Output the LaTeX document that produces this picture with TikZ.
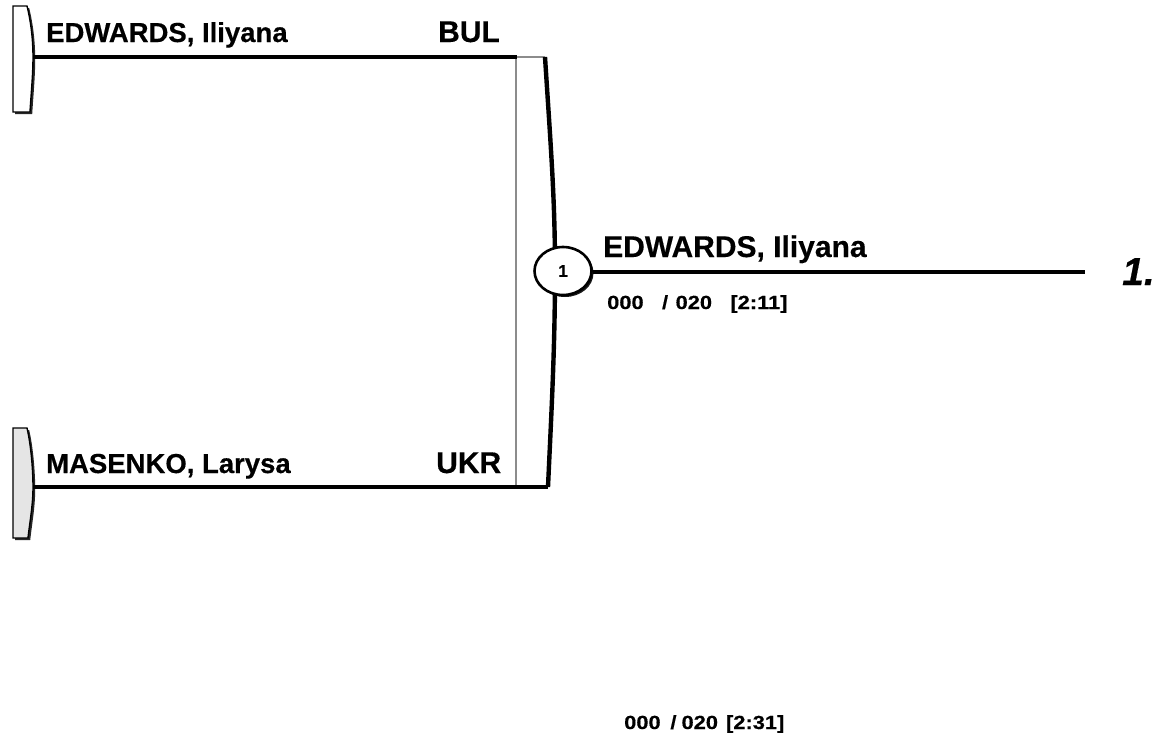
\documentclass[tikz,border=0pt]{standalone}
\usepackage{fontspec}
\setmainfont{Liberation Sans}[BoldFeatures={FakeBold=0.4},BoldItalicFeatures={FakeBold=0.4}]
\usepackage{graphicx}
\usetikzlibrary{shapes.geometric,shadows}
\begin{document}
\begin{tikzpicture}[x=1pt,y=-1pt,
  pname/.style={font=\bfseries\fontsize{27.5}{30}\selectfont, anchor=base west, inner sep=0pt},
  nation/.style={font=\bfseries\fontsize{30}{32}\selectfont, anchor=base west, inner sep=0pt},
  winner/.style={font=\bfseries\fontsize{30}{32}\selectfont, anchor=base west, inner sep=0pt},
  score/.style={font=\bfseries\fontsize{19}{20}\selectfont, anchor=base west, inner sep=0pt},
  place/.style={font=\bfseries\itshape\fontsize{39}{40}\selectfont, anchor=base west, inner sep=0pt},
  wire/.style={line width=3.2pt, black},
  edgegray/.style={line width=2.8pt, black!45},
  bracketedge/.style={line width=4.4pt, black},
  matchno/.style={ellipse, draw=black, line width=2.6pt, fill=white, minimum width=57pt, minimum height=48pt, inner sep=0pt,
    font=\bfseries\fontsize{17}{18}\selectfont,
    drop shadow={shadow xshift=2pt, shadow yshift=-2pt, opacity=0.9, fill=black}},
  tabshadow/.style={fill=black!85},
  tabbody/.style={draw=black, line width=1.4pt}
]
\useasboundingbox (0,0) rectangle (1166,737);

% top entry tab
\fill[tabshadow, shift={(2.2,2.2)}] (13,6) -- (27,6) .. controls (31,22) and (33,40) .. (33,57) .. controls (33,75) and (31,95) .. (30,112) -- (13,112) -- cycle;
\filldraw[tabbody, fill=white] (13,6) -- (27,6) .. controls (31,22) and (33,40) .. (33,57) .. controls (33,75) and (31,95) .. (30,112) -- (13,112) -- cycle;
\coordinate (t1) at (33,57);

% bottom entry tab
\fill[tabshadow, shift={(2.2,2.2)}] (13,428) -- (27,428) .. controls (31,445) and (33,470) .. (33,487) .. controls (33,505) and (30,520) .. (28,538) -- (13,538) -- cycle;
\filldraw[tabbody, fill=black!10] (13,428) -- (27,428) .. controls (31,445) and (33,470) .. (33,487) .. controls (33,505) and (30,520) .. (28,538) -- (13,538) -- cycle;
\coordinate (b1) at (33,487);

% bracket
\coordinate (tj) at (517,57);
\coordinate (tr) at (545,57);
\coordinate (bj) at (548,487);
\coordinate (bl) at (516,487);
\draw[edgegray] (516,57) -- (bl);
\draw[edgegray] (tj) -- (tr);
\draw[bracketedge] (tr) .. controls (551,150) and (555,200) .. (555,271) .. controls (555,350) and (551,420) .. (bj);
\draw[wire] (t1) -- (tj);
\draw[wire] (b1) -- (bj);

% match circle and output line
\node[matchno] (m1) at (563,271) {1};
\coordinate (oend) at (1085,272);
\draw[wire] (m1.east |- oend) -- (oend);

% texts
\node[pname] (n1) at (46,42) {EDWARDS, Iliyana};
\node[nation] (c1) at (438,42) {BUL};
\node[pname] (n2) at (46,473) {MASENKO, Larysa};
\node[nation] (c2) at (436,473) {UKR};
\node[winner] (w1) at (603,257) {EDWARDS, Iliyana};
\node[score] (s1) at (607,309) {\scalebox{1.15}[1]{000\hspace{16pt}/\hspace{6.5pt}020\hspace{16pt}[2:11]}};
\node[place] (p1) at (1122,285) {1.};
\node[score] (s2) at (624,729) {\scalebox{1.15}[1]{000\hspace{8.5pt}/\hspace{4.4pt}020\hspace{7pt}[2:31]}};
\end{tikzpicture}
\end{document}
